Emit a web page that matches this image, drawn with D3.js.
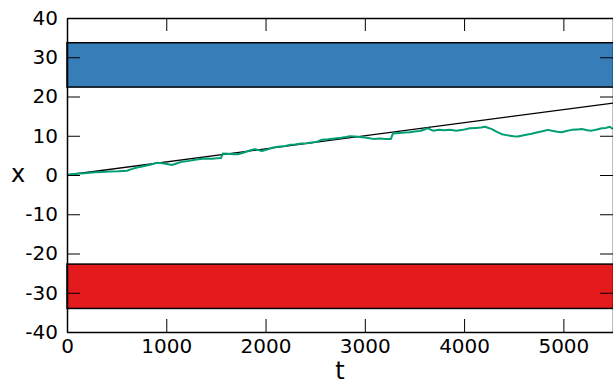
<!DOCTYPE html>
<html><head><meta charset="utf-8">
<script src="https://cdn.jsdelivr.net/npm/d3@7"></script>
<style>body{margin:0;background:#fff}svg{display:block}text{font-family:"DejaVu Sans",sans-serif;fill:#000}</style>
</head><body><svg id="c" width="613" height="383"></svg>
<script>
const xTicks = [0, 1000, 2000, 3000, 4000, 5000];
const yTicks = [-40, -30, -20, -10, 0, 10, 20, 30, 40];
const upperBand = [22.4, 33.7];
const lowerBand = [-34.0, -22.7];
const driftT = [0, 5500];
const driftX = [0, 18.33];
const walkT = [0, 60, 140, 200, 282, 350, 430, 520, 604, 650, 705, 780, 850, 906, 960, 1010, 1057, 1110, 1158, 1230, 1290, 1339, 1400, 1460, 1510, 1551, 1571, 1620, 1680, 1722, 1790, 1850, 1893, 1964, 2030, 2080, 2125, 2200, 2250, 2296, 2360, 2410, 2467, 2520, 2568, 2630, 2699, 2760, 2810, 2850, 2900, 2951, 3020, 3082, 3150, 3210, 3263, 3283, 3350, 3400, 3454, 3500, 3555, 3600, 3635, 3686, 3750, 3800, 3857, 3920, 3988, 4058, 4120, 4170, 4209, 4280, 4330, 4380, 4440, 4500, 4542, 4612, 4680, 4743, 4800, 4843, 4900, 4940, 4984, 5030, 5085, 5140, 5186, 5240, 5287, 5340, 5387, 5430, 5468, 5498];
const walkX = [0, 0.25, 0.4, 0.5, 0.7, 0.75, 0.9, 0.95, 1.1, 1.5, 1.9, 2.3, 2.7, 3.1, 3.0, 2.8, 2.55, 3.0, 3.4, 3.6, 3.9, 4.1, 4.2, 4.15, 4.25, 4.3, 5.5, 5.4, 5.3, 5.3, 5.8, 6.3, 6.6, 6.1, 6.6, 7.0, 7.2, 7.4, 7.7, 7.8, 8.0, 8.1, 8.3, 8.5, 9.0, 9.1, 9.3, 9.5, 9.7, 9.9, 9.8, 9.7, 9.5, 9.2, 9.3, 9.2, 9.2, 10.6, 10.7, 10.8, 10.9, 11.1, 11.2, 11.6, 11.9, 11.3, 11.5, 11.4, 11.5, 11.3, 11.5, 11.9, 12.0, 12.1, 12.3, 11.7, 11.0, 10.4, 10.1, 9.9, 9.8, 10.2, 10.5, 10.9, 11.2, 11.5, 11.2, 11.0, 10.9, 11.2, 11.5, 11.6, 11.7, 11.4, 11.3, 11.6, 11.9, 12.0, 12.3, 11.7];

const W = 613, H = 383;
const m = {left: 67, right: 0, top: 18, bottom: 51};
const svg = d3.select("#c");
const x = d3.scaleLinear().domain([0, 5500]).range([m.left, W - m.right]);
const y = d3.scaleLinear().domain([-40, 40]).range([H - m.bottom, m.top]);

// bands
[[upperBand, "#377eb8"], [lowerBand, "#e41a1c"]].forEach(([b, col]) => {
  svg.append("rect")
    .attr("x", x(0)).attr("width", x(5500) - x(0) + 5)
    .attr("y", y(b[1])).attr("height", y(b[0]) - y(b[1]))
    .attr("fill", col).attr("stroke", "#000").attr("stroke-width", 1.5);
});

// drift line
svg.append("path")
  .datum(driftT.map((t, i) => [t, driftX[i]]))
  .attr("d", d3.line().x(d => x(d[0])).y(d => y(d[1])))
  .attr("fill", "none").attr("stroke", "#000").attr("stroke-width", 1.3);

// random walk
svg.append("path")
  .datum(walkT.map((t, i) => [t, walkX[i]]))
  .attr("d", d3.line().x(d => x(d[0])).y(d => y(d[1])))
  .attr("fill", "none").attr("stroke", "#009e73").attr("stroke-width", 2).attr("stroke-linejoin", "round");

// axes with inward ticks
const tl = 13;
const fmt = d => String(d);
const gB = svg.append("g").attr("transform", `translate(0,${y(-40)})`)
  .call(d3.axisBottom(x).tickValues(xTicks).tickSizeInner(-tl).tickSizeOuter(0).tickPadding(7).tickFormat(fmt));
const gT = svg.append("g").attr("transform", `translate(0,${y(40)})`)
  .call(d3.axisTop(x).tickValues(xTicks).tickSizeInner(-tl).tickSizeOuter(0).tickFormat(""));
const gL = svg.append("g").attr("transform", `translate(${x(0)},0)`)
  .call(d3.axisLeft(y).tickValues(yTicks).tickSizeInner(-tl).tickSizeOuter(0).tickPadding(9).tickFormat(fmt));
const gR = svg.append("g").attr("transform", `translate(${x(5500)},0)`)
  .call(d3.axisRight(y).tickValues(yTicks).tickSizeInner(-tl).tickSizeOuter(0).tickFormat(""));
[gB, gT, gL, gR].forEach(g => {
  g.select(".domain").attr("stroke", "#000").attr("stroke-width", 1.5);
  g.selectAll(".tick line").attr("stroke", "#000").attr("stroke-width", 1);
  g.selectAll("text").style("font-family", "'DejaVu Sans', sans-serif").style("font-size", "20px").attr("fill", "#000");
});

svg.append("text").attr("x", 340).attr("y", 379).attr("text-anchor", "middle")
  .style("font-size", "24px").text("t");
svg.append("text").attr("x", 18).attr("y", 182).attr("text-anchor", "middle")
  .style("font-size", "24px").text("x");
</script></body></html>
